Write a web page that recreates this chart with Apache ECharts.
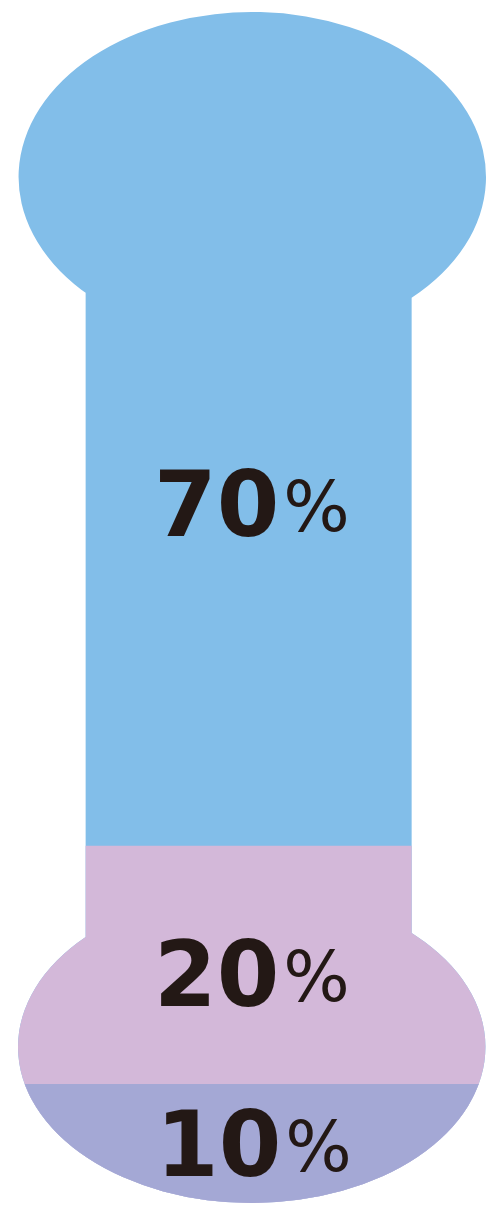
<!DOCTYPE html>
<html>
<head>
<meta charset="utf-8">
<style>
  html, body { margin: 0; padding: 0; background: #ffffff; }
  #chart { width: 487px; height: 1205px; }
</style>
<script src="https://cdn.jsdelivr.net/npm/echarts@6/dist/echarts.min.js"></script>
</head>
<body>
<div id="chart"></div>
<script>
// Share of the whole, stacked from the bottom up
const categories = ['total'];
const segmentNames = ['bottom', 'middle', 'top'];
const segmentValues = [10, 20, 70];
const segmentColors = ['#A4A8D5', '#D3B8D9', '#82BEE9'];
const valueMax = 100;

// Label nudges (px) so each label sits in the visible body of its segment
const labelOffsets = [[2, 9], [0, 18], [0, 84]];

// Running totals: each layer is the bone silhouette clipped at its cumulative share
const cumulative = [];
segmentValues.reduce((acc, v, i) => (cumulative[i] = acc + v), 0);

// Bone silhouette: big ellipse on top, stem, ellipse at the foot
const bonePath = 'path://M67,281 L67,925 A233,156 0 1,0 392,921 L392,286 A233,165 0 1,0 67,281 Z';

const chart = echarts.init(document.getElementById('chart'), null, { renderer: 'canvas' });

// Draw the tallest layer first so the shorter ones sit on top of it
const layerOrder = segmentValues.map((_, i) => i).reverse();
const layers = layerOrder.map(i => ({
  name: segmentNames[i],
  type: 'pictorialBar',
  symbol: bonePath,
  symbolSize: ['100%', '100%'],
  symbolClip: true,
  symbolBoundingData: valueMax,
  symbolPosition: 'start',
  barGap: '-100%',
  barCategoryGap: 0,
  itemStyle: { color: segmentColors[i] },
  silent: true,
  data: [cumulative[i]]
}));

const textColor = '#231815';

const labelSeries = {
  type: 'scatter',
  symbolSize: 0,
  silent: true,
  z: 10,
  itemStyle: { color: 'transparent', opacity: 1 },
  data: segmentValues.map((v, i) => ({
    value: [0, cumulative[i] - v / 2],
    label: { offset: labelOffsets[i] }
  })),
  label: {
    show: true,
    position: 'inside',
    color: textColor,
    opacity: 1,
    textBorderWidth: 0,
    textBorderColor: 'transparent',
    formatter: p => '{num|' + segmentValues[p.dataIndex] + '}{pct|%}',
    rich: {
      num: {
        fontFamily: 'DejaVu Sans',
        fontWeight: 'bold',
        fontSize: 90,
        color: textColor,
        textBorderWidth: 0
      },
      pct: {
        fontFamily: 'DejaVu Sans',
        fontWeight: 'normal',
        fontSize: 70,
        color: textColor,
        textBorderWidth: 0,
        padding: [0, 0, 0, 4]
      }
    }
  }
};

chart.setOption({
  animation: false,
  backgroundColor: '#ffffff',
  grid: { left: 18, right: 1, top: 12, bottom: 2 },
  xAxis: { type: 'category', data: categories, show: false },
  yAxis: { type: 'value', min: 0, max: valueMax, show: false },
  series: layers.concat([labelSeries])
});
</script>
</body>
</html>
